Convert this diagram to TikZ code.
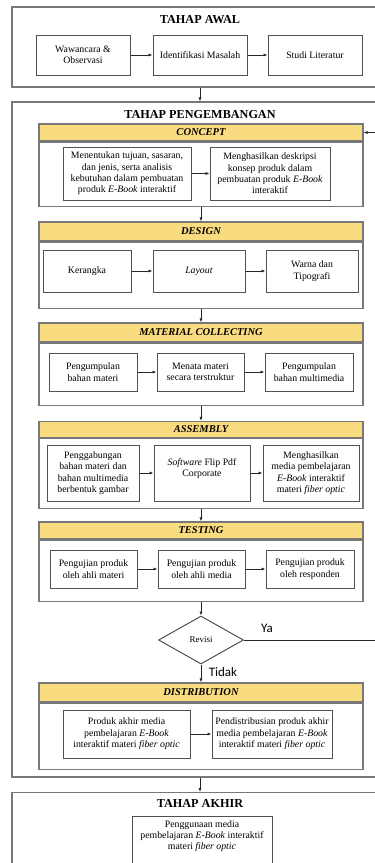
\documentclass[tikz,border=0pt]{standalone}
\usepackage{fontspec}
\setmainfont{Liberation Serif}
\newfontfamily\carl{Carlito}
\usetikzlibrary{arrows.meta,shapes.geometric}
\definecolor{hdrfill}{RGB}{249,219,128}
\definecolor{outerln}{RGB}{120,120,120}
\definecolor{innerln}{RGB}{80,80,80}
\tikzset{
  outerbox/.style={draw=outerln,line width=1.3pt,inner sep=0pt},
  secbox/.style={draw=outerln,line width=1.2pt,inner sep=0pt,minimum width=324pt},
  hdrbox/.style={secbox,fill=hdrfill,font=\fontsize{10.5}{12}\selectfont\bfseries\itshape},
  ibox/.style={draw=innerln,line width=1pt,inner sep=0pt,align=center,font=\fontsize{9.8}{11.4}\selectfont},
  ttl/.style={font=\fontsize{12.2}{14}\selectfont\bfseries,inner sep=0pt},
  arr/.style={draw=black!85,line width=0.9pt,-{Latex[length=4pt,width=3.2pt]}},
  lbl/.style={font=\carl\fontsize{13}{15}\selectfont,inner sep=0pt}
}
\begin{document}
\begin{tikzpicture}[x=1pt,y=-1pt]
\useasboundingbox (0,0) rectangle (375,863);
% ---------- TAHAP AWAL ----------
\node[outerbox,minimum width=376pt,minimum height=80pt] (awal) at (200,47) {};
\node[ttl] (awalt) at (200,20) {TAHAP AWAL};
\node[ibox,minimum width=94pt,minimum height=40pt] (w) at (83,55) {Wawancara \&\\Observasi};
\node[ibox,minimum width=94pt,minimum height=40pt] (i) at (200,55) {Identifikasi Masalah};
\node[ibox,minimum width=94pt,minimum height=40pt] (s) at (315,55) {Studi Literatur};
\draw[arr] (w) -- (i);
\draw[arr] (i) -- (s);
% ---------- TAHAP PENGEMBANGAN ----------
\node[outerbox,minimum width=376pt,minimum height=675pt] (peng) at (200,439.5) {};
\node[ttl] (pengt) at (200,115) {TAHAP PENGEMBANGAN};
\draw[arr] (awal.south) -- (peng.north);
% CONCEPT
\node[hdrbox,minimum height=17pt] (ch) at (201,132.5) {CONCEPT};
\node[secbox,minimum height=64pt,anchor=north] (cb) at (ch.south) {};
\node[ibox,minimum width=128pt,minimum height=53pt] (c1) at (127,173.5) {Menentukan tujuan, sasaran,\\dan jenis, serta analisis\\kebutuhan dalam pembuatan\\produk \textit{E-Book} interaktif};
\node[ibox,minimum width=120pt,minimum height=53pt] (c2) at (270,173.5) {Menghasilkan deskripsi\\konsep produk dalam\\pembuatan produk \textit{E-Book}\\interaktif};
\draw[arr] (c1) -- (c2);
% DESIGN
\node[hdrbox,minimum height=19pt] (dh) at (201,231.5) {DESIGN};
\node[secbox,minimum height=66pt,anchor=north] (db) at (dh.south) {};
\draw[arr] (cb.south) -- (dh.north);
\node[ibox,minimum width=88pt,minimum height=42pt] (d1) at (87,271) {Kerangka};
\node[ibox,minimum width=92pt,minimum height=42pt] (d2) at (199,271) {\textit{Layout}};
\node[ibox,minimum width=92pt,minimum height=42pt] (d3) at (312,271) {Warna dan\\Tipografi};
\draw[arr] (d1) -- (d2);
\draw[arr] (d2) -- (d3);
% MATERIAL COLLECTING
\node[hdrbox,minimum height=19pt] (mh) at (201,332.5) {MATERIAL COLLECTING};
\node[secbox,minimum height=62pt,anchor=north] (mb) at (mh.south) {};
\draw[arr] (db.south) -- (mh.north);
\node[ibox,minimum width=88pt,minimum height=38pt] (m1) at (93,372) {Pengumpulan\\bahan materi};
\node[ibox,minimum width=87pt,minimum height=38pt] (m2) at (200.5,372) {Menata materi\\secara terstruktur};
\node[ibox,minimum width=88pt,minimum height=38pt] (m3) at (309,372) {Pengumpulan\\bahan multimedia};
\draw[arr] (m1) -- (m2);
\draw[arr] (m2) -- (m3);
% ASSEMBLY
\node[hdrbox,minimum height=16pt] (ah) at (201,429.5) {ASSEMBLY};
\node[secbox,minimum height=70pt,anchor=north] (ab) at (ah.south) {};
\draw[arr] (mb.south) -- (ah.north);
\node[ibox,minimum width=92pt,minimum height=56pt] (a1) at (93,473) {Penggabungan\\bahan materi dan\\bahan multimedia\\berbentuk gambar};
\node[ibox,minimum width=96pt,minimum height=56pt] (a2) at (202,473) {\textit{Software} Flip Pdf\\Corporate\\\mbox{}};
\node[ibox,minimum width=96pt,minimum height=56pt] (a3) at (311,473) {Menghasilkan\\media pembelajaran\\\textit{E-Book} interaktif\\materi \textit{fiber optic}};
\draw[arr] (a1) -- (a2);
\draw[arr] (a2) -- (a3);
% TESTING
\node[hdrbox,minimum height=17pt] (th) at (201,530.5) {TESTING};
\node[secbox,minimum height=61pt,anchor=north] (tb) at (th.south) {};
\draw[arr] (ab.south) -- (th.north);
\node[ibox,minimum width=87pt,minimum height=38pt] (t1) at (93.5,569) {Pengujian produk\\oleh ahli materi};
\node[ibox,minimum width=87pt,minimum height=38pt] (t2) at (201.5,569) {Pengujian produk\\oleh ahli media};
\node[ibox,minimum width=88pt,minimum height=38pt] (t3) at (310,569) {Pengujian produk\\oleh responden};
\draw[arr] (t1) -- (t2);
\draw[arr] (t2) -- (t3);
% REVISI
\node[diamond,draw=innerln,line width=1pt,inner sep=0pt,minimum width=85pt,minimum height=48pt,font=\fontsize{9}{10}\selectfont] (rev) at (201,640) {Revisi};
\draw[arr] (tb.south) -- (rev.north);
\coordinate (loop) at (392,132.5);
\draw[arr] (rev.east) -| (loop) -- (ch.east);
\node[lbl] (ya) at (267,628) {Ya};
% DISTRIBUTION
\node[hdrbox,minimum height=19pt] (xh) at (201,692.5) {DISTRIBUTION};
\node[secbox,minimum height=66pt,anchor=north] (xb) at (xh.south) {};
\draw[arr] (rev.south) -- (xh.north);
\node[lbl] (tidak) at (223,672) {Tidak};
\node[ibox,minimum width=127pt,minimum height=48pt] (x1) at (126.5,734) {Produk akhir media\\pembelajaran \textit{E-Book}\\interaktif materi \textit{fiber optic}};
\node[ibox,minimum width=120pt,minimum height=48pt] (x2) at (272,734) {Pendistribusian produk akhir\\media pembelajaran \textit{E-Book}\\interaktif materi \textit{fiber optic}};
\draw[arr] (x1) -- (x2);
% ---------- TAHAP AKHIR ----------
\node[outerbox,minimum width=376pt,minimum height=120pt,anchor=north] (akhir) at (200,792) {};
\draw[arr] (peng.south) -- (akhir.north);
\node[ttl] (akhirt) at (200,803) {TAHAP AKHIR};
\node[draw=innerln,line width=1pt,inner sep=0pt,minimum width=140pt,minimum height=70pt,anchor=north] (akbox) at (202,816) {};
\node[align=center,inner sep=0pt,anchor=north,font=\fontsize{9.8}{11.4}\selectfont] (aktext) at (202,820) {Penggunaan media\\pembelajaran \textit{E-Book} interaktif\\materi \textit{fiber optic}};
\end{tikzpicture}
\end{document}
